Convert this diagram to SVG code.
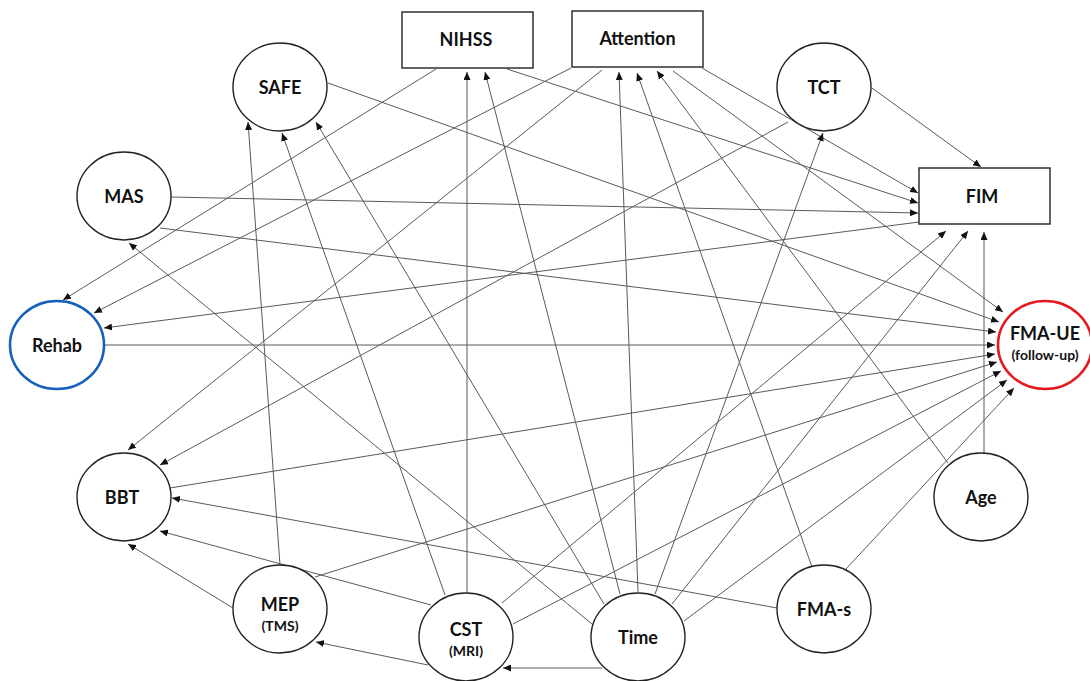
<svg xmlns="http://www.w3.org/2000/svg" width="1090" height="681" viewBox="0 0 1090 681">
<defs>
<marker id="ah" markerUnits="userSpaceOnUse" markerWidth="9" markerHeight="7" refX="8" refY="3.5" orient="auto">
<path d="M0,0 L8,3.5 L0,7 Z" fill="#111"/>
</marker>
<style>
.e{stroke:#5a5a5a;stroke-width:1;fill:none;marker-end:url(#ah)}
.n{fill:#fff;stroke:#222;stroke-width:1.4}
.t{font-family:Lato,"Open Sans","Liberation Sans",sans-serif;font-weight:bold;font-size:18px;fill:#111;text-anchor:middle}
.s{font-size:14px}
</style>
</defs>
<rect width="1090" height="681" fill="#fff"/>
<g id="connectors">
<line class="e" x1="436" y1="69" x2="63" y2="300"/>
<line class="e" x1="571" y1="68" x2="94" y2="313"/>
<line class="e" x1="919" y1="222" x2="104" y2="328"/>
<line class="e" x1="104" y1="345" x2="995" y2="345"/>
<line class="e" x1="602" y1="70" x2="128" y2="450"/>
<line class="e" x1="788" y1="122" x2="160" y2="465"/>
<line class="e" x1="777" y1="608" x2="172" y2="498"/>
<line class="e" x1="431" y1="605" x2="160" y2="531"/>
<line class="e" x1="233" y1="608" x2="128" y2="544"/>
<line class="e" x1="170" y1="488" x2="995" y2="354"/>
<line class="e" x1="507" y1="69" x2="918" y2="203"/>
<line class="e" x1="702" y1="68" x2="918" y2="193"/>
<line class="e" x1="171" y1="197" x2="918" y2="213"/>
<line class="e" x1="872" y1="88" x2="981" y2="167"/>
<line class="e" x1="502" y1="603" x2="946" y2="231"/>
<line class="e" x1="672" y1="604" x2="968" y2="231"/>
<line class="e" x1="984" y1="453" x2="984" y2="232"/>
<line class="e" x1="673" y1="71" x2="1003" y2="312"/>
<line class="e" x1="328" y1="83" x2="999" y2="322"/>
<line class="e" x1="160" y1="228" x2="996" y2="332"/>
<line class="e" x1="315" y1="577" x2="997" y2="362"/>
<line class="e" x1="513" y1="624" x2="1001" y2="371"/>
<line class="e" x1="684" y1="621" x2="1007" y2="380"/>
<line class="e" x1="846" y1="569" x2="1014" y2="388"/>
<line class="e" x1="638" y1="592" x2="619" y2="72"/>
<line class="e" x1="812" y1="567" x2="637" y2="73"/>
<line class="e" x1="948" y1="463" x2="657" y2="71"/>
<line class="e" x1="467" y1="593" x2="467" y2="72"/>
<line class="e" x1="620" y1="594" x2="485" y2="72"/>
<line class="e" x1="280" y1="565" x2="248" y2="122"/>
<line class="e" x1="445" y1="595" x2="282" y2="133"/>
<line class="e" x1="604" y1="604" x2="316" y2="122"/>
<line class="e" x1="592" y1="624" x2="129" y2="243"/>
<line class="e" x1="655" y1="594" x2="823" y2="133"/>
<line class="e" x1="428" y1="665" x2="316" y2="642"/>
<line class="e" x1="602" y1="668" x2="503" y2="668"/>
</g>
<g id="NIHSS"><rect class="n" x="402" y="12" width="131" height="56"/><text class="t" x="466" y="46">NIHSS</text></g>
<g id="Attention"><rect class="n" x="572" y="11" width="131" height="56"/><text class="t" x="637.5" y="45">Attention</text></g>
<g id="FIM"><rect class="n" x="919" y="168" width="131" height="56"/><text class="t" x="982" y="203">FIM</text></g>
<g id="SAFE"><ellipse class="n" cx="280" cy="87" rx="47" ry="44"/><text class="t" x="280" y="94">SAFE</text></g>
<g id="TCT"><ellipse class="n" cx="824" cy="87" rx="47" ry="44"/><text class="t" x="824" y="94">TCT</text></g>
<g id="MAS"><ellipse class="n" cx="124" cy="196" rx="47" ry="44"/><text class="t" x="124" y="203">MAS</text></g>
<g id="Rehab"><ellipse class="n" cx="57" cy="345" rx="47" ry="44" style="stroke:#1560bd;stroke-width:2.6"/><text class="t" x="57" y="352">Rehab</text></g>
<g id="FMA-UE"><ellipse class="n" cx="1045" cy="345" rx="47" ry="44" style="stroke:#e5181d;stroke-width:2.6"/><text class="t" x="1045" y="340">FMA-UE</text><text class="t s" x="1045" y="360">(follow-up)</text></g>
<g id="BBT"><ellipse class="n" cx="124" cy="497" rx="47" ry="44"/><text class="t" x="122" y="504">BBT</text></g>
<g id="Age"><ellipse class="n" cx="981" cy="497" rx="47" ry="44"/><text class="t" x="981" y="504">Age</text></g>
<g id="MEP"><ellipse class="n" cx="280" cy="609" rx="47" ry="44"/><text class="t" x="280" y="611">MEP</text><text class="t s" x="280" y="631">(TMS)</text></g>
<g id="FMA-s"><ellipse class="n" cx="824" cy="609" rx="47" ry="44"/><text class="t" x="824" y="616">FMA-s</text></g>
<g id="CST"><ellipse class="n" cx="466" cy="637" rx="47" ry="44"/><text class="t" x="466" y="636">CST</text><text class="t s" x="466" y="656">(MRI)</text></g>
<g id="Time"><ellipse class="n" cx="638" cy="637" rx="47" ry="44"/><text class="t" x="638" y="644">Time</text></g>
</svg>
